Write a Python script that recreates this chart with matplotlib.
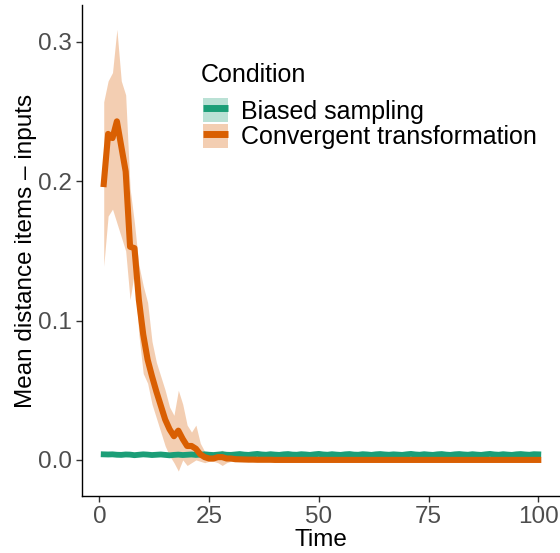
import numpy as np
import matplotlib.pyplot as plt
from matplotlib.patches import Patch
from matplotlib.lines import Line2D

plt.rcParams['font.family'] = ['Liberation Sans', 'DejaVu Sans']

# data
time = list(range(1, 101))

conv_mean = [0.198, 0.234, 0.231, 0.243, 0.225, 0.207, 0.153, 0.152, 0.115, 0.090,
             0.072, 0.060, 0.049, 0.039, 0.029, 0.022, 0.017, 0.021, 0.015, 0.010,
             0.010, 0.008, 0.004, 0.002, 0.001, 0.001, 0.002, 0.002, 0.001, 0.001,
             0.0005, 0.0004, 0.0003, 0.0002, 0.0002, 0.0001, 0.0001, 0.0001, 0.0001, 0.0,
             0.0, 0.0, 0.0, 0.0, 0.0, 0.0, 0.0, 0.0, 0.0, 0.0,
             0.0, 0.0, 0.0, 0.0, 0.0, 0.0, 0.0, 0.0, 0.0, 0.0,
             0.0, 0.0, 0.0, 0.0, 0.0, 0.0, 0.0, 0.0, 0.0, 0.0,
             0.0, 0.0, 0.0, 0.0, 0.0, 0.0, 0.0, 0.0, 0.0, 0.0,
             0.0, 0.0, 0.0, 0.0, 0.0, 0.0, 0.0, 0.0, 0.0, 0.0,
             0.0, 0.0, 0.0, 0.0, 0.0, 0.0, 0.0, 0.0, 0.0, 0.0]

conv_lower = [0.139, 0.175, 0.180, 0.170, 0.160, 0.150, 0.115, 0.135, 0.090, 0.062,
              0.055, 0.040, 0.030, 0.020, 0.010, 0.003, -0.002, -0.008, 0.000, -0.004,
              -0.002, 0.000, -0.001, -0.002, -0.001, -0.001, -0.002, -0.004, -0.002, -0.001,
              -0.0005, -0.0004, -0.0003, -0.0002, -0.0002, -0.0001, -0.0001, -0.0001, -0.0001, 0.0,
              0.0, 0.0, 0.0, 0.0, 0.0, 0.0, 0.0, 0.0, 0.0, 0.0,
              0.0, 0.0, 0.0, 0.0, 0.0, 0.0, 0.0, 0.0, 0.0, 0.0,
              0.0, 0.0, 0.0, 0.0, 0.0, 0.0, 0.0, 0.0, 0.0, 0.0,
              0.0, 0.0, 0.0, 0.0, 0.0, 0.0, 0.0, 0.0, 0.0, 0.0,
              0.0, 0.0, 0.0, 0.0, 0.0, 0.0, 0.0, 0.0, 0.0, 0.0,
              0.0, 0.0, 0.0, 0.0, 0.0, 0.0, 0.0, 0.0, 0.0, 0.0]

conv_upper = [0.257, 0.272, 0.278, 0.309, 0.272, 0.262, 0.195, 0.170, 0.140, 0.125,
              0.113, 0.085, 0.070, 0.060, 0.050, 0.038, 0.032, 0.050, 0.040, 0.025,
              0.020, 0.025, 0.012, 0.006, 0.003, 0.003, 0.005, 0.007, 0.004, 0.002,
              0.0012, 0.0009, 0.0007, 0.0005, 0.0004, 0.0003, 0.0002, 0.0002, 0.0001, 0.0,
              0.0, 0.0, 0.0, 0.0, 0.0, 0.0, 0.0, 0.0, 0.0, 0.0,
              0.0, 0.0, 0.0, 0.0, 0.0, 0.0, 0.0, 0.0, 0.0, 0.0,
              0.0, 0.0, 0.0, 0.0, 0.0, 0.0, 0.0, 0.0, 0.0, 0.0,
              0.0, 0.0, 0.0, 0.0, 0.0, 0.0, 0.0, 0.0, 0.0, 0.0,
              0.0, 0.0, 0.0, 0.0, 0.0, 0.0, 0.0, 0.0, 0.0, 0.0,
              0.0, 0.0, 0.0, 0.0, 0.0, 0.0, 0.0, 0.0, 0.0, 0.0]

biased_mean = [0.0040, 0.0039, 0.0040, 0.0037, 0.0036, 0.0039, 0.0038, 0.0034, 0.0037, 0.0040,
               0.0038, 0.0035, 0.0037, 0.0039, 0.0036, 0.0033, 0.0036, 0.0038, 0.0035, 0.0037,
               0.0039, 0.0036, 0.0038, 0.0040, 0.0037, 0.0035, 0.0038, 0.0041, 0.0037, 0.0036,
               0.0039, 0.0042, 0.0038, 0.0036, 0.0040, 0.0043, 0.0039, 0.0037, 0.0041, 0.0038,
               0.0036, 0.0040, 0.0042, 0.0038, 0.0037, 0.0041, 0.0039, 0.0036, 0.0040, 0.0043,
               0.0039, 0.0037, 0.0041, 0.0038, 0.0036, 0.0040, 0.0042, 0.0038, 0.0037, 0.0041,
               0.0039, 0.0036, 0.0040, 0.0042, 0.0039, 0.0037, 0.0040, 0.0038, 0.0036, 0.0040,
               0.0043, 0.0039, 0.0037, 0.0041, 0.0038, 0.0036, 0.0040, 0.0042, 0.0038, 0.0036,
               0.0040, 0.0042, 0.0039, 0.0037, 0.0041, 0.0038, 0.0036, 0.0040, 0.0043, 0.0039,
               0.0037, 0.0041, 0.0038, 0.0036, 0.0040, 0.0042, 0.0039, 0.0037, 0.0041, 0.0040]
biased_err = 0.0007

conditions = ['Biased sampling', 'Convergent transformation']
green = '#1B9E77'
orange = '#D95F02'

fig = plt.figure(figsize=(5.6, 5.53), dpi=100)
ax = fig.add_axes([82 / 560, 57 / 553, 478 / 560, 491 / 553])

b_mean = np.array(biased_mean)
ax.fill_between(time, b_mean - biased_err, b_mean + biased_err,
                color=green, alpha=0.3, linewidth=0)
ax.plot(time, b_mean, color=green, lw=4.2, solid_joinstyle='round')
ax.fill_between(time, conv_lower, conv_upper, color=orange, alpha=0.3, linewidth=0)
ax.plot(time, conv_mean, color=orange, lw=4.4, solid_joinstyle='round')

ax.set_xlim(-3.95, 104.95)
ax.set_ylim(-0.0259, 0.3265)
ax.set_xticks([0, 25, 50, 75, 100])
ax.set_yticks([0.0, 0.1, 0.2, 0.3])
ax.set_yticklabels(['0.0', '0.1', '0.2', '0.3'])

for side in ['top', 'right']:
    ax.spines[side].set_visible(False)
for side in ['left', 'bottom']:
    ax.spines[side].set_linewidth(1.0)
    ax.spines[side].set_color('black')

ax.tick_params(labelsize=17.5, labelcolor='#4D4D4D', color='#333333',
               length=4, width=1.0, pad=3)
ax.set_xlabel('Time', fontsize=17.5, labelpad=1)
ax.set_ylabel('Mean distance items \u2013 inputs', fontsize=17.5, labelpad=1)

# legend: title drawn as its own text so the gap above the keys matches
fig.text(201 / 560, 1 - 82 / 553, 'Condition', fontsize=18, va='baseline', ha='left')
handles = [(Patch(facecolor=green, alpha=0.3, edgecolor='none'),
            Line2D([], [], color=green, lw=5.0, solid_capstyle='butt')),
           (Patch(facecolor=orange, alpha=0.3, edgecolor='none'),
            Line2D([], [], color=orange, lw=5.0, solid_capstyle='butt'))]
leg = fig.legend(handles, conditions, loc='upper left',
                 bbox_to_anchor=(203 / 560, 1 - 98 / 553),
                 frameon=False, fontsize=18,
                 handlelength=0.98, handleheight=1.1, labelspacing=0.0,
                 handletextpad=0.55, borderpad=0, borderaxespad=0)

fig.savefig('out.png', dpi=100)
